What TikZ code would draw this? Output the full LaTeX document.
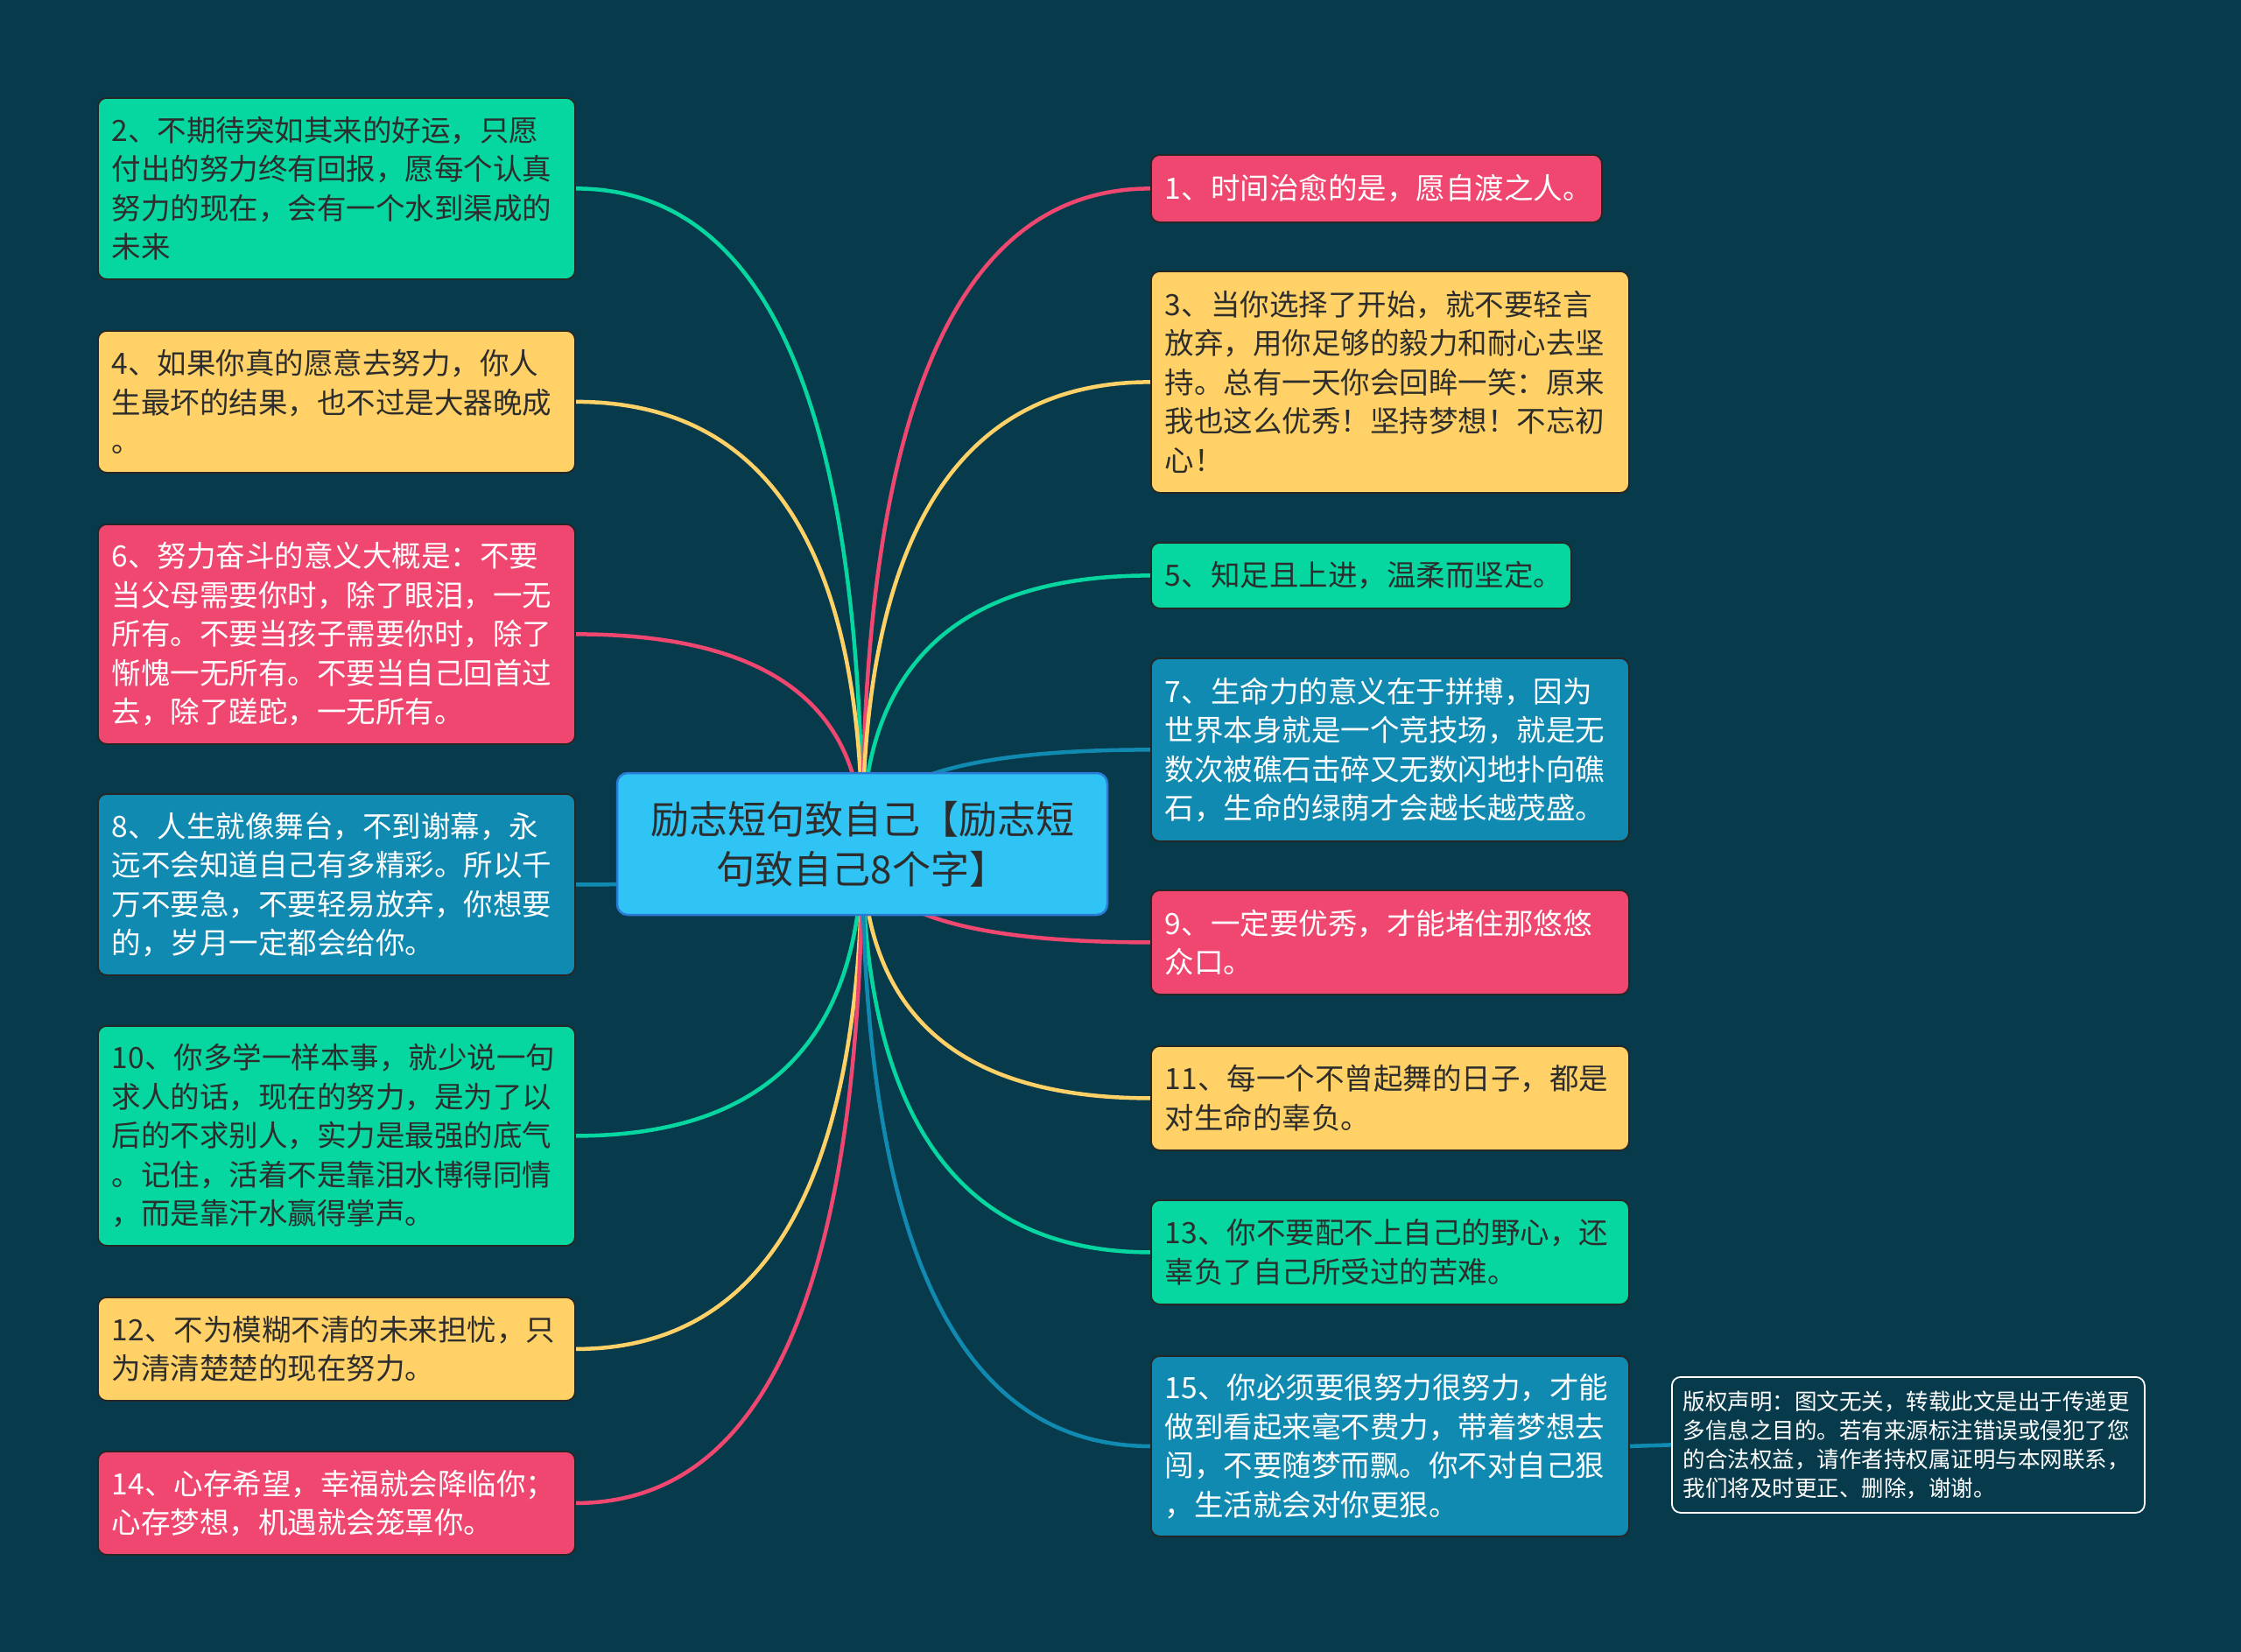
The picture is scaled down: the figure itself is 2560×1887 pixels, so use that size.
\documentclass[tikz,border=0pt]{standalone}
\usepackage{fontspec}
\setmainfont{Noto Sans CJK SC}
\usetikzlibrary{calc}
\definecolor{cbg}{HTML}{073B4C}
\definecolor{cgreen}{HTML}{06D6A0}
\definecolor{cyellow}{HTML}{FFD166}
\definecolor{cpink}{HTML}{EF476F}
\definecolor{cblue}{HTML}{118AB2}
\definecolor{ccenter}{HTML}{30C4F5}
\definecolor{ccenterborder}{HTML}{2A7AD6}
\definecolor{cdark}{HTML}{2D2D2D}
\pgfdeclarelayer{bgfill}
\pgfdeclarelayer{edges}
\pgfsetlayers{bgfill,edges,main}
\newcommand{\boxfont}{\fontsize{33.5}{44.5}\selectfont}
\newcommand{\centerfont}{\fontsize{44}{57}\selectfont}
\newcommand{\crfont}{\fontsize{25.5}{33}\selectfont}
\tikzset{
  box/.style={draw=black!85, line width=1.8pt, rounded corners=10pt, anchor=north west,
    inner xsep=16pt, inner ysep=0pt, align=left, font=\boxfont},
  gbox/.style={box, fill=cgreen, text=cdark},
  ybox/.style={box, fill=cyellow, text=cdark},
  pbox/.style={box, fill=cpink, text=white},
  bbox/.style={box, fill=cblue, text=white},
  cbox/.style={draw=ccenterborder, line width=2.5pt, fill=ccenter, rounded corners=12pt,
    text=cdark, align=center, font=\centerfont, inner sep=0pt},
  crbox/.style={draw=white, line width=1.8pt, rounded corners=10pt, anchor=north west,
    inner xsep=13pt, inner ysep=0pt, align=left, font=\crfont, text=white},
  conn/.style={line width=4.5pt, line cap=round},
  branch/.style={to path={.. controls ($(\tikztostart)!0.667!(\tikztostart|-\tikztotarget)$)
      and ($(\tikztotarget)!0.667!(\tikztostart|-\tikztotarget)$) .. (\tikztotarget)}}
}
\begin{document}
\begin{tikzpicture}[x=1pt,y=-1pt]
\begin{pgfonlayer}{bgfill}
\fill[cbg] (0,0) rectangle (2560,1887);
\end{pgfonlayer}
\useasboundingbox (0,0) rectangle (2560,1887);

% central node
\node[cbox, minimum width=560pt, minimum height=162pt] (c) at (985,964)
  {励志短句致自己【励志短\\句致自己8个字】};

% left column
\node[gbox, text width=513pt, minimum height=207pt] (n2) at (111,111)
  {2、不期待突如其来的好运，只愿\\付出的努力终有回报，愿每个认真\\努力的现在，会有一个水到渠成的\\未来};
\node[ybox, text width=513pt, minimum height=162pt] (n4) at (111,377)
  {4、如果你真的愿意去努力，你人\\生最坏的结果，也不过是大器晚成\\。};
\node[pbox, text width=513pt, minimum height=251pt] (n6) at (111,598)
  {6、努力奋斗的意义大概是：不要\\当父母需要你时，除了眼泪，一无\\所有。不要当孩子需要你时，除了\\惭愧一无所有。不要当自己回首过\\去，除了蹉跎，一无所有。};
\node[bbox, text width=513pt, minimum height=207pt] (n8) at (111,906)
  {8、人生就像舞台，不到谢幕，永\\远不会知道自己有多精彩。所以千\\万不要急，不要轻易放弃，你想要\\的，岁月一定都会给你。};
\node[gbox, text width=513pt, minimum height=251pt] (n10) at (111,1171)
  {10、你多学一样本事，就少说一句\\求人的话，现在的努力，是为了以\\后的不求别人，实力是最强的底气\\。记住，活着不是靠泪水博得同情\\，而是靠汗水赢得掌声。};
\node[ybox, text width=513pt, minimum height=118pt] (n12) at (111,1481)
  {12、不为模糊不清的未来担忧，只\\为清清楚楚的现在努力。};
\node[pbox, text width=513pt, minimum height=118pt] (n14) at (111,1657)
  {14、心存希望，幸福就会降临你；\\心存梦想，机遇就会笼罩你。};

% right column
\node[pbox, text width=483pt, minimum height=77pt] (n1) at (1314,176)
  {1、时间治愈的是，愿自渡之人。};
\node[ybox, text width=514pt, minimum height=253pt] (n3) at (1314,309)
  {3、当你选择了开始，就不要轻言\\放弃，用你足够的毅力和耐心去坚\\持。总有一天你会回眸一笑：原来\\我也这么优秀！坚持梦想！不忘初\\心！};
\node[gbox, text width=448pt, minimum height=75pt] (n5) at (1314,619)
  {5、知足且上进，温柔而坚定。};
\node[bbox, text width=514pt, minimum height=209pt] (n7) at (1314,751)
  {7、生命力的意义在于拼搏，因为\\世界本身就是一个竞技场，就是无\\数次被礁石击碎又无数闪地扑向礁\\石，生命的绿荫才会越长越茂盛。};
\node[pbox, text width=514pt, minimum height=119pt] (n9) at (1314,1016)
  {9、一定要优秀，才能堵住那悠悠\\众口。};
\node[ybox, text width=514pt, minimum height=119pt] (n11) at (1314,1194)
  {11、每一个不曾起舞的日子，都是\\对生命的辜负。};
\node[gbox, text width=514pt, minimum height=119pt] (n13) at (1314,1370)
  {13、你不要配不上自己的野心，还\\辜负了自己所受过的苦难。};
\node[bbox, text width=514pt, minimum height=206pt] (n15) at (1314,1548)
  {15、你必须要很努力很努力，才能\\做到看起来毫不费力，带着梦想去\\闯，不要随梦而飘。你不对自己狠\\，生活就会对你更狠。};

% copyright note
\node[crbox, text width=514pt, minimum height=155pt] (cr) at (1909,1572)
  {版权声明：图文无关，转载此文是出于传递更\\多信息之目的。若有来源标注错误或侵犯了您\\的合法权益，请作者持权属证明与本网联系，\\我们将及时更正、删除，谢谢。};

% connectors
\begin{pgfonlayer}{edges}
\draw[conn, cgreen]  (c.center) to[branch] (n2.east);
\draw[conn, cyellow] (c.center) to[branch] (n4.east);
\draw[conn, cpink]   (c.center) to[branch] (n6.east);
\draw[conn, cblue]   (c.center) to[branch] (n8.east);
\draw[conn, cgreen]  (c.center) to[branch] (n10.east);
\draw[conn, cyellow] (c.center) to[branch] (n12.east);
\draw[conn, cpink]   (c.center) to[branch] (n14.east);
\draw[conn, cpink]   (c.center) to[branch] (n1.west);
\draw[conn, cyellow] (c.center) to[branch] (n3.west);
\draw[conn, cgreen]  (c.center) to[branch] (n5.west);
\draw[conn, cblue]   (c.center) to[branch] (n7.west);
\draw[conn, cpink]   (c.center) to[branch] (n9.west);
\draw[conn, cyellow] (c.center) to[branch] (n11.west);
\draw[conn, cgreen]  (c.center) to[branch] (n13.west);
\draw[conn, cblue]   (c.center) to[branch] (n15.west);
\draw[conn, cblue]   (n15.east) -- (cr.west);
\end{pgfonlayer}
\end{tikzpicture}
\end{document}
